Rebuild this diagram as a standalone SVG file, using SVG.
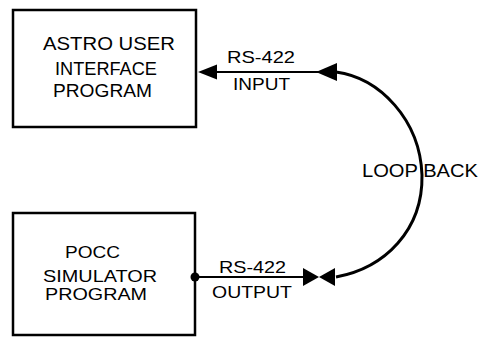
<svg xmlns="http://www.w3.org/2000/svg" width="483" height="337" viewBox="0 0 483 337">
<style>
.box{fill:#fff;stroke:#000;stroke-width:2.5}
.t{font-family:"Liberation Sans",Arial,sans-serif;font-size:18.5px;fill:#000}
.b{font-family:"Liberation Sans",Arial,sans-serif;font-size:16.5px;fill:#000}
.s{font-family:"Liberation Sans",Arial,sans-serif;font-size:16.5px;fill:#000}
.ln{stroke:#000;stroke-width:2;fill:none}
.cv{stroke:#000;stroke-width:3;fill:none}
.ah{fill:#000}
</style>
<rect width="483" height="337" fill="#fff"/>
<g id="astro">
<rect class="box" x="13" y="10" width="183" height="117"/>
<text class="t" x="43" y="50" textLength="132" lengthAdjust="spacingAndGlyphs">ASTRO USER</text>
<text class="t" x="55" y="75" textLength="102" lengthAdjust="spacingAndGlyphs">INTERFACE</text>
<text class="t" x="53" y="97" textLength="99" lengthAdjust="spacingAndGlyphs">PROGRAM</text>
</g>
<g id="pocc">
<rect class="box" x="13" y="213" width="182" height="122"/>
<text class="b" x="65" y="258" textLength="55" lengthAdjust="spacingAndGlyphs">POCC</text>
<text class="b" x="43" y="282" textLength="114" lengthAdjust="spacingAndGlyphs">SIMULATOR</text>
<text class="b" x="45" y="300" textLength="102" lengthAdjust="spacingAndGlyphs">PROGRAM</text>
</g>
<g id="connectors">
<line class="ln" x1="210" y1="72" x2="320" y2="72"/>
<polygon class="ah" points="198,72 217,64.5 217,79.5"/>
<polygon class="ah" points="316,72 337,63 337,81"/>
<text class="s" x="227" y="63" textLength="68" lengthAdjust="spacingAndGlyphs">RS-422</text>
<text class="s" x="233" y="90" textLength="57" lengthAdjust="spacingAndGlyphs">INPUT</text>
<line class="ln" x1="195" y1="277" x2="306" y2="277"/>
<circle cx="195" cy="277" r="4.5" fill="#000"/>
<polygon class="ah" points="303,268 319,277 303,286"/>
<polygon class="ah" points="335,268 319,277 335,286"/>
<text class="s" x="219" y="273" textLength="67" lengthAdjust="spacingAndGlyphs">RS-422</text>
<text class="s" x="212" y="298" textLength="80" lengthAdjust="spacingAndGlyphs">OUTPUT</text>
<text class="t" x="362" y="177" font-size="18" textLength="116" lengthAdjust="spacingAndGlyphs">LOOP BACK</text>
<path class="cv" d="M336,72 C380,78 420,120 422,175 C423,230 385,268 336,277"/>
</g>
</svg>
